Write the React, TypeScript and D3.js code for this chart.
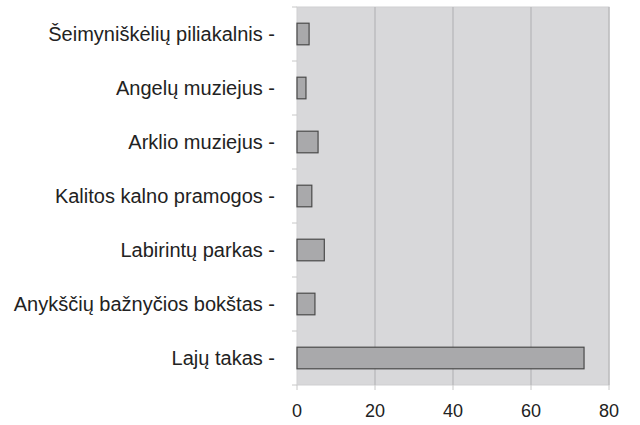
import * as d3 from 'd3';
import { useEffect, useRef } from 'react';

const categories = [
    'Šeimyniškėlių piliakalnis',
    'Angelų muziejus',
    'Arklio muziejus',
    'Kalitos kalno pramogos',
    'Labirintų parkas',
    'Anykščių bažnyčios bokštas',
    'Lajų takas',
];
const values = [3.1, 2.3, 5.4, 3.8, 7.0, 4.6, 73.6];
const xTicks = [0, 20, 40, 60, 80];

const margin = { top: 7, right: 31, bottom: 40, left: 297 };
const width = 640;
const height = 425;
const innerW = width - margin.left - margin.right;
const innerH = height - margin.top - margin.bottom;

export default function App() {
    const ref = useRef<SVGSVGElement | null>(null);

    useEffect(() => {
        const svg = d3.select(ref.current);
        svg.selectAll('*').remove();

        const g = svg
            .append('g')
            .attr('transform', `translate(${margin.left},${margin.top})`);

        const x = d3.scaleLinear().domain([0, 80]).range([0, innerW]);
        const y = d3
            .scaleBand()
            .domain(categories)
            .range([0, innerH])
            .paddingInner(0.6)
            .paddingOuter(0.3);

        // plot background
        g.append('rect')
            .attr('width', innerW)
            .attr('height', innerH)
            .attr('fill', '#d8d8da')
            .attr('stroke', '#cfcfd1');

        // vertical grid
        g.selectAll('.grid')
            .data(xTicks.slice(1))
            .enter()
            .append('line')
            .attr('x1', (d) => x(d))
            .attr('x2', (d) => x(d))
            .attr('y1', 0)
            .attr('y2', innerH)
            .attr('stroke', '#b9b9bb')
            .attr('stroke-width', 1.3);

        // category separator ticks on the left
        const step = innerH / categories.length;
        g.selectAll('.ytick')
            .data(d3.range(categories.length + 1))
            .enter()
            .append('line')
            .attr('x1', -5)
            .attr('x2', 0)
            .attr('y1', (i) => i * step)
            .attr('y2', (i) => i * step)
            .attr('stroke', '#c8c8c8');

        // bars
        g.selectAll('.bar')
            .data(values)
            .enter()
            .append('rect')
            .attr('x', 0)
            .attr('y', (_, i) => y(categories[i])!)
            .attr('width', (d) => x(d))
            .attr('height', y.bandwidth())
            .attr('fill', '#a9a9ab')
            .attr('stroke', '#4a4a4a')
            .attr('stroke-width', 1.2);

        // category labels
        g.selectAll('.label')
            .data(categories)
            .enter()
            .append('text')
            .attr('x', -22)
            .attr('y', (d) => y(d)! + y.bandwidth() / 2)
            .attr('dy', '0.35em')
            .attr('text-anchor', 'end')
            .attr('fill', '#222')
            .style('font-family', 'Liberation Sans, Arial, sans-serif')
            .style('font-size', '20px')
            .text((d) => `${d} -`);

        // x ticks and labels
        g.selectAll('.xtick')
            .data(xTicks)
            .enter()
            .append('line')
            .attr('x1', (d) => x(d))
            .attr('x2', (d) => x(d))
            .attr('y1', innerH)
            .attr('y2', innerH + 5)
            .attr('stroke', '#c8c8c8');

        g.selectAll('.xlabel')
            .data(xTicks)
            .enter()
            .append('text')
            .attr('x', (d) => x(d))
            .attr('y', innerH + 32)
            .attr('text-anchor', 'middle')
            .attr('fill', '#222')
            .style('font-family', 'Liberation Sans, Arial, sans-serif')
            .style('font-size', '18px')
            .text((d) => d);
    }, []);

    return (
        <svg
            ref={ref}
            width={width}
            height={height}
            style={{ position: 'absolute', left: 0, top: 0, background: '#fff' }}
        />
    );
}
